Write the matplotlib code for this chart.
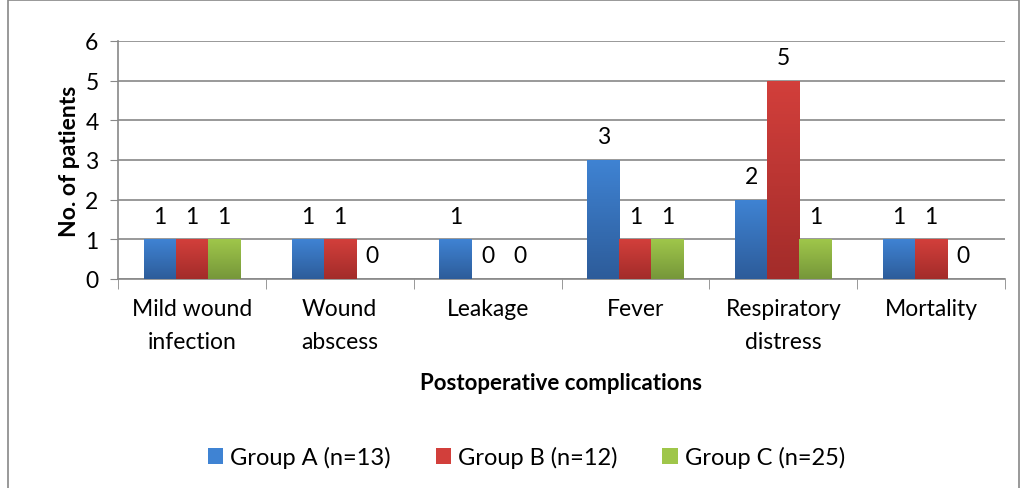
import numpy as np
import matplotlib.pyplot as plt
import matplotlib.colors as mcolors
from matplotlib.patches import Rectangle

categories = ["Mild wound\ninfection", "Wound\nabscess", "Leakage", "Fever",
              "Respiratory\ndistress", "Mortality"]
group_a = [1, 1, 1, 3, 2, 1]
group_b = [1, 1, 0, 1, 5, 1]
group_c = [1, 0, 0, 1, 1, 0]
series_names = ["Group A (n=13)", "Group B (n=12)", "Group C (n=25)"]

# (top colour, bottom colour) for the Excel-like gradient
colors = [("#3f83d3", "#2d5c9a"), ("#d23f3b", "#a32c2a"), ("#9fc64a", "#76973a")]

plt.rcParams['font.family'] = ['Lato', 'DejaVu Sans']
fs = 16.5

fig = plt.figure(figsize=(10.22, 4.89), dpi=100)
ax = fig.add_axes([118 / 1022, 1 - 280 / 489, (1005 - 118) / 1022, (280 - 42) / 489])

x = np.arange(len(categories))
width = 0.217
offsets = [-width, 0, width]
values = [group_a, group_b, group_c]

for vals, off, (top, bot), name in zip(values, offsets, colors, series_names):
    bars = ax.bar(x + off, vals, width, color=top, label=name, zorder=3)
    cmap = mcolors.LinearSegmentedColormap.from_list("g", [bot, top])
    grad = np.linspace(0, 1, 64).reshape(-1, 1)
    for b, v in zip(bars, vals):
        if v > 0:
            im = ax.imshow(grad, cmap=cmap, aspect='auto', origin='lower',
                           extent=[b.get_x(), b.get_x() + b.get_width(), 0, v], zorder=3)
            im.set_clip_path(b)
        ax.text(b.get_x() + b.get_width() / 2, v + 0.32, str(v), ha='center',
                va='bottom', fontsize=fs, zorder=4)

ax.set_xlim(-0.5, len(categories) - 0.5)
ax.set_ylim(0, 6)
ax.set_yticks(range(0, 7))
ax.set_xticks(x)
ax.set_xticklabels(categories, fontsize=fs, linespacing=1.7)
ax.set_xticks(np.arange(-0.5, len(categories)), minor=True)
ax.tick_params(axis='x', which='major', length=0, pad=14)
ax.tick_params(axis='x', which='minor', length=7, color='#888888')
ax.tick_params(axis='y', length=6, color='#888888', labelsize=fs, pad=8)
ax.yaxis.grid(True, color='#888888', linewidth=1.2, zorder=0)
ax.set_axisbelow(True)
for s in ['top', 'right']:
    ax.spines[s].set_visible(False)
for s in ['left', 'bottom']:
    ax.spines[s].set_color('#888888')
    ax.spines[s].set_linewidth(1.2)

ax.set_ylabel("No. of patients", fontsize=16.5, fontweight='bold', labelpad=4)
ax.set_xlabel("Postoperative complications", fontsize=16, fontweight='bold', labelpad=14)

fig.legend(loc='center', bbox_to_anchor=(0.515, 1 - 458 / 489), ncol=3, frameon=False,
           fontsize=17, handlelength=0.65, handleheight=0.65, handletextpad=0.3,
           columnspacing=1.9)

fig.patches.append(Rectangle((8 / 1022, -0.1), (1019 - 8) / 1022, 1.1 - 1 / 489,
                             transform=fig.transFigure, fill=False,
                             edgecolor='#888888', linewidth=1.2))

fig.savefig("out.png", dpi=100)
